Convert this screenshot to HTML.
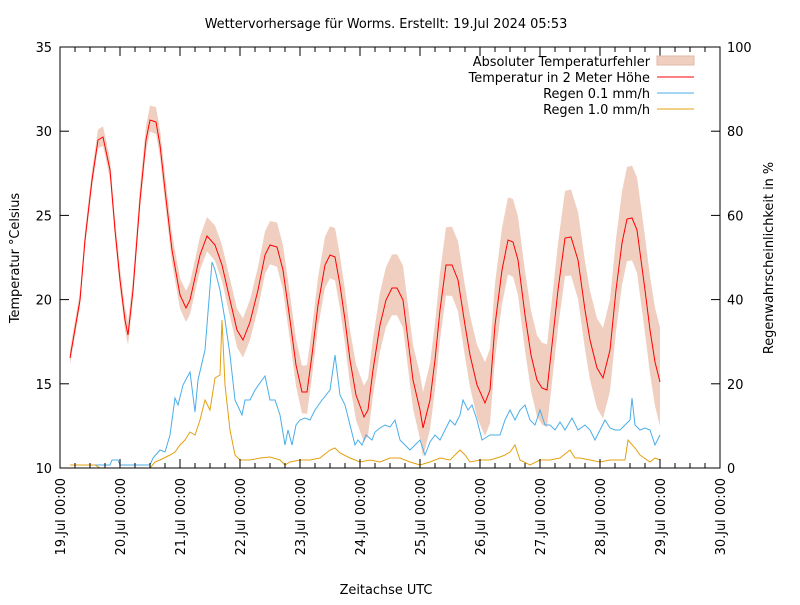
<!DOCTYPE html>
<html><head><meta charset="utf-8"><style>
body{margin:0;background:#fff}
text{font-family:"DejaVu Sans","Liberation Sans",sans-serif;font-size:12.9px;fill:#000}
</style></head><body>
<svg id="s" width="800" height="600" xmlns="http://www.w3.org/2000/svg">
<text x="386" y="28" text-anchor="middle">Wettervorhersage für Worms. Erstellt: 19.Jul 2024 05:53</text>
<g id="band"></g>
<g id="lines"></g>
<rect x="60" y="47" width="660" height="421" fill="none" stroke="#000" stroke-width="1"/>
<g id="ticks" stroke="#000" stroke-width="1"></g>
<g id="labels"></g>
<text transform="translate(19,258) rotate(-90)" text-anchor="middle">Temperatur °Celsius</text>
<text transform="translate(773,258) rotate(-90)" text-anchor="middle">Regenwahrscheinlichkeit in %</text>
<text x="386" y="594" text-anchor="middle">Zeitachse UTC</text>
<text x="650" y="66" text-anchor="end">Absoluter Temperaturfehler</text>
<rect x="657" y="56" width="37" height="9" fill="#f0cfc0" stroke="#e0b8a6"/>
<text x="650" y="82" text-anchor="end">Temperatur in 2 Meter Höhe</text>
<line x1="657" y1="77" x2="694" y2="77" stroke="#ff0000"/>
<text x="650" y="98" text-anchor="end">Regen 0.1 mm/h</text>
<line x1="657" y1="93" x2="694" y2="93" stroke="#4aaee8"/>
<text x="650" y="114" text-anchor="end">Regen 1.0 mm/h</text>
<line x1="657" y1="109" x2="694" y2="109" stroke="#e3a010"/>
</svg>
<script>
const NS="http://www.w3.org/2000/svg";
function el(p,t,a){const e=document.createElementNS(NS,t);for(const k in a)e.setAttribute(k,a[k]);document.getElementById(p).appendChild(e);return e;}
const T=[[70,358],[80,300],[85,240],[92,180],[98,140],[103,137],[110,170],[115,230],[120,280],[125,320],[128,335],[133,290],[140,200],[146,140],[150,120],[156,122],[160,145],[165,190],[172,250],[180,295],[186,308],[190,300],[200,255],[207,236],[215,245],[222,265],[230,300],[237,330],[243,340],[250,322],[258,290],[265,255],[270,245],[277,247],[283,270],[290,320],[296,365],[302,392],[307,392],[312,355],[318,305],[325,265],[330,255],[335,257],[340,285],[345,320],[350,360],[356,395],[364,417],[368,410],[373,370],[380,325],[386,300],[392,288],[397,288],[403,300],[408,340],[413,380],[420,410],[423,428],[430,400],[435,360],[440,310],[446,265],[452,265],[458,280],[465,325],[470,355],[477,385],[485,403],[490,390],[495,325],[502,270],[508,240],[513,242],[518,260],[525,315],[531,355],[537,380],[542,388],[547,390],[552,345],[558,290],[565,238],[571,237],[578,260],[585,310],[590,340],[597,368],[603,378],[610,350],[616,290],[622,243],[627,219],[632,218],[637,230],[645,290],[650,330],[655,362],[660,382]];
const B=[[70,465],[110,465],[112,460],[118,460],[120,465],[150,465],[153,458],[160,450],[165,452],[170,435],[175,398],[178,405],[183,385],[190,372],[195,412],[198,380],[205,350],[212,262],[215,270],[220,290],[225,320],[230,355],[235,400],[242,415],[245,400],[250,400],[255,390],[262,380],[265,376],[270,400],[275,400],[280,415],[285,445],[288,430],[292,445],[296,425],[300,420],[305,418],[310,420],[315,410],[322,400],[330,390],[335,355],[340,395],[345,405],[350,425],[355,445],[358,440],[362,445],[366,435],[372,440],[375,432],[380,428],[385,425],[390,427],[395,420],[400,440],[405,445],[410,450],[415,445],[420,440],[425,455],[430,442],[435,435],[440,440],[445,430],[450,420],[455,425],[460,415],[463,400],[468,410],[472,405],[477,420],[482,440],[490,435],[500,435],[505,420],[510,410],[515,420],[520,410],[525,405],[530,420],[535,425],[540,410],[545,425],[550,425],[555,430],[560,422],[565,430],[572,418],[578,430],[585,425],[590,430],[595,440],[600,430],[605,420],[610,428],[615,430],[620,430],[625,425],[630,420],[632,398],[635,425],[640,430],[645,428],[650,430],[655,445],[660,435]];
const O=[[70,465],[95,465],[100,468],[150,468],[155,462],[160,460],[170,455],[175,452],[180,445],[185,440],[190,432],[195,435],[200,420],[205,400],[210,410],[215,378],[220,375],[222,320],[225,385],[230,430],[235,455],[240,460],[250,460],[260,458],[270,457],[280,460],[285,465],[290,462],[300,460],[310,460],[320,458],[330,450],[335,448],[340,453],[350,458],[360,462],[370,460],[380,462],[390,458],[400,458],[410,462],[420,465],[430,462],[440,458],[450,460],[460,450],[465,455],[470,462],[480,460],[490,460],[500,457],[505,455],[510,452],[515,445],[520,460],[530,465],[540,460],[550,460],[560,458],[570,450],[575,458],[580,458],[590,460],[600,462],[610,460],[620,460],[625,460],[628,440],[635,448],[640,455],[650,462],[655,458],[660,460]];
const pts=a=>a.map(p=>p.join(',')).join(' ');
const off=x=>7+(x-60)*0.075;
const up=T.map(([x,y])=>[x,y-off(x)*1.05]),lo=T.slice().reverse().map(([x,y])=>[x,Math.min(468,y+off(x)*0.85)]);
el('band','polygon',{points:pts(up.concat(lo)),fill:'#f0cfc0',stroke:'none'});
el('lines','polyline',{points:pts(B),fill:'none',stroke:'#4aaee8','stroke-width':1});
el('lines','polyline',{points:pts(O),fill:'none',stroke:'#e3a010','stroke-width':1});
el('lines','polyline',{points:pts(T),fill:'none',stroke:'#ff0000','stroke-width':1});
for(let i=0;i<=44;i++){const x=60+i*15,l=i%4==0?9:5;
 el('ticks','line',{x1:x,y1:468,x2:x,y2:468-l});el('ticks','line',{x1:x,y1:47,x2:x,y2:47+l});}
for(let d=0;d<=11;d++){const x=60+d*60;
 el('labels','text',{transform:`translate(${x+5},478) rotate(-90)`,'text-anchor':'end'}).textContent=(19+d)+'.Jul 00:00';}
for(let v=10;v<=35;v+=5){const y=468-(v-10)*16.84;
 el('ticks','line',{x1:60,y1:y,x2:69,y2:y});
 el('labels','text',{x:52,y:y+5,'text-anchor':'end'}).textContent=v;}
for(let v=0;v<=100;v+=20){const y=468-v*4.21;
 el('ticks','line',{x1:720,y1:y,x2:711,y2:y});
 el('labels','text',{x:727,y:y+5}).textContent=v;}
</script>
</body></html>
